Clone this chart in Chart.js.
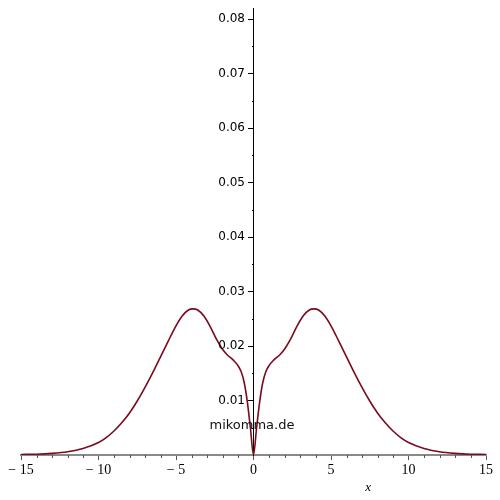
<!DOCTYPE html>
<html>
<head>
<meta charset="utf-8">
<script src="https://cdn.jsdelivr.net/npm/chart.js@4.4.1/dist/chart.umd.min.js"></script>
<style>
  html, body { margin: 0; padding: 0; background: #fff; }
  #wrap { width: 500px; height: 500px; }
</style>
</head>
<body>
<div id="wrap"><canvas id="myChart" width="500" height="500"></canvas></div>
<script>
// curve values
const data_x = [-15, -14, -13, -12, -11, -10, -9.5, -9, -8.5, -8, -7.5, -7, -6.5, -6, -5.5, -5,
    -4.6, -4.2, -3.9, -3.6, -3.2, -2.8, -2.4, -2, -1.7, -1.3, -1, -0.8, -0.6, -0.4, -0.2, 0,
    0.2, 0.4, 0.6, 0.8, 1, 1.3, 1.7, 2, 2.4, 2.8, 3.2, 3.6, 3.9, 4.2, 4.6,
    5, 5.5, 6, 6.5, 7, 7.5, 8, 8.5, 9, 9.5, 10, 11, 12, 13, 14, 15];
const data_y = [0.0001, 0.00015, 0.0003, 0.0006, 0.0012, 0.0023, 0.0032, 0.0044, 0.0059, 0.0077, 0.0099, 0.0124, 0.0151, 0.0180, 0.0209, 0.0237,
    0.0255, 0.0266, 0.0268, 0.0266, 0.0255, 0.0236, 0.0213, 0.0194, 0.0184, 0.0174, 0.0164, 0.0153, 0.0133, 0.0098, 0.0050, 0,
    0.0050, 0.0098, 0.0133, 0.0153, 0.0164, 0.0174, 0.0184, 0.0194, 0.0213, 0.0236, 0.0255, 0.0266, 0.0268, 0.0266, 0.0255,
    0.0237, 0.0209, 0.0180, 0.0151, 0.0124, 0.0099, 0.0077, 0.0059, 0.0044, 0.0032, 0.0023, 0.0012, 0.0006, 0.0003, 0.00015, 0.0001];

const x_ticks = [-15, -10, -5, 0, 5, 10, 15];
const y_ticks = [0.01, 0.02, 0.03, 0.04, 0.05, 0.06, 0.07, 0.08];

let points = [];
for (let i = 0; i < data_x.length; i++) {
    points.push({ x: data_x[i], y: data_y[i] });
}

// y ticks + labels, minor ticks, axis name and the site label
const extras = {
    id: "extras",
    afterDraw(chart) {
        const ctx = chart.ctx;
        const sx = chart.scales.x;
        const sy = chart.scales.y;
        const x0 = Math.round(sx.getPixelForValue(0));
        const y0 = sy.getPixelForValue(0);
        ctx.save();
        ctx.lineWidth = 1;
        ctx.strokeStyle = "#555";
        for (let v = -15; v <= 15; v++) {
            if (v % 5 == 0) continue;
            const px = Math.round(sx.getPixelForValue(v)) + 0.5;
            ctx.beginPath();
            ctx.moveTo(px, y0);
            ctx.lineTo(px, y0 + 3);
            ctx.stroke();
        }
        ctx.strokeStyle = "#000";
        for (let k = 1; k < 17; k++) {
            const py = Math.round(sy.getPixelForValue(k * 0.005)) + 0.5;
            const len = (k % 2 == 0) ? 6 : 2;
            ctx.beginPath();
            ctx.moveTo(x0 - len, py);
            ctx.lineTo(x0, py);
            ctx.stroke();
        }
        ctx.fillStyle = "#000";
        ctx.font = "12px 'DejaVu Sans'";
        ctx.textAlign = "right";
        ctx.textBaseline = "middle";
        y_ticks.forEach(v => {
            ctx.fillText(v.toFixed(2), x0 - 9, sy.getPixelForValue(v));
        });
        ctx.font = "italic 13px 'Liberation Serif'";
        ctx.textAlign = "center";
        ctx.fillText("x", sx.getPixelForValue(7.4), 488);
        ctx.font = "13px 'DejaVu Sans'";
        ctx.fillStyle = "#111";
        ctx.fillText("mikomma.de", sx.getPixelForValue(-0.1), sy.getPixelForValue(0.0054));
        ctx.restore();
    }
};

const config = {
    type: "scatter",
    data: {
        datasets: [
            {
                data: points,
                showLine: true,
                borderColor: "#7a0a1e",
                borderWidth: 1.6,
                pointRadius: 0,
                cubicInterpolationMode: "monotone",
            },
        ],
    },
    options: {
        responsive: false,
        animation: false,
        layout: { padding: { left: 21, right: 14, top: 8, bottom: 45 } },
        plugins: { legend: { display: false }, tooltip: { enabled: false } },
        scales: {
            x: {
                type: "linear",
                position: { y: 0 },
                min: -15,
                max: 15,
                afterBuildTicks: (axis) => { axis.ticks = x_ticks.map(v => ({ value: v })); },
                grid: { drawOnChartArea: false, drawTicks: true, tickLength: 4, color: "#555" },
                border: { display: true, color: "#8a8a8a", width: 2 },
                ticks: {
                    color: "#000",
                    font: { family: "'Liberation Serif'", size: 14 },
                    padding: 3,
                    maxRotation: 0,
                    callback: (v) => v < 0 ? "\u2212 " + Math.abs(v) : String(v),
                },
            },
            y: {
                type: "linear",
                position: { x: 0 },
                min: 0,
                max: 0.082,
                afterBuildTicks: (axis) => { axis.ticks = y_ticks.map(v => ({ value: v })); },
                grid: { drawOnChartArea: false, drawTicks: false },
                border: { display: true, color: "#000", width: 1 },
                ticks: { display: false },
            },
        },
    },
    plugins: [extras],
};

const ctx1 = document.getElementById("myChart").getContext("2d");
const chart = new Chart(ctx1, config);
</script>
</body>
</html>
